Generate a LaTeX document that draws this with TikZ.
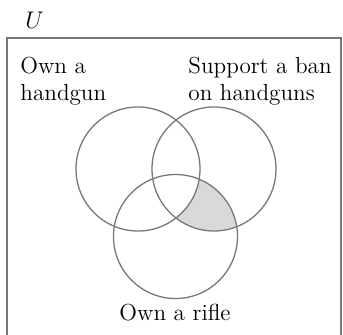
\documentclass[tikz,border=0pt]{standalone}
\usepackage{tikz}
\usetikzlibrary{positioning}
\definecolor{VennLine}{RGB}{120,120,120}
\definecolor{VennShade}{RGB}{217,217,217}

\tikzset{
  venn/.style={draw=VennLine, line width=0.65pt},
  vennlabel/.style={inner sep=0pt, align=left, font=\fontsize{11.6}{13.5}\selectfont}
}

\begin{document}
\begin{tikzpicture}[x=0.5pt,y=-0.5pt]
  \path[use as bounding box] (0,0) rectangle (343,334);
  \clip (0,0) rectangle (343,334);

  % circle centres
  \coordinate (hand) at (138,169);
  \coordinate (ban) at (214,169);
  \coordinate (rifle) at (175.5,236.5);
  \def\rad{62}

  % shaded part: ban and rifle, not handgun
  \begin{scope}
    \clip (ban) circle (\rad);
    \clip (rifle) circle (\rad);
    \fill[VennShade, even odd rule] (0,0) rectangle (343,334) (hand) circle (\rad);
  \end{scope}

  \draw[venn] (7,38) rectangle (341,360);
  \foreach \c in {hand,ban,rifle}{
    \draw[venn] (\c) circle (\rad);
  }

  \node[font=\fontsize{11.6}{14}\selectfont, inner sep=0pt, anchor=base west] (U) at (25,28) {$U$};
  \node[vennlabel, anchor=base west] (handlab) at (20,100) {Own a\\handgun};
  \node[vennlabel, anchor=base west] (banlab) at (188,100) {Support a ban\\on handguns};
  \node[vennlabel, anchor=base] (riflelab) at (175,320) {Own a rifle};
\end{tikzpicture}
\end{document}
